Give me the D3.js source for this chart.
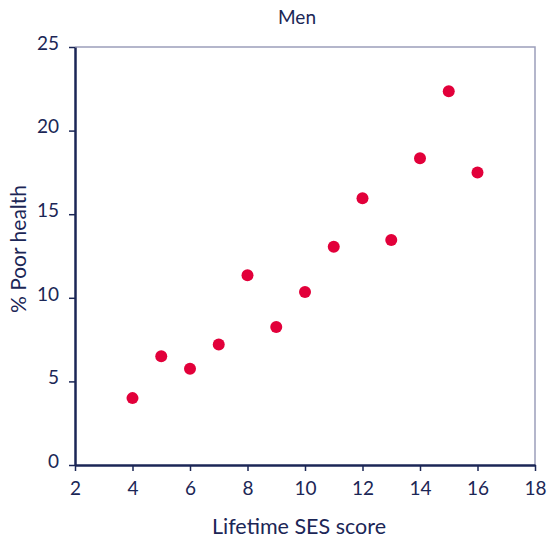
<!DOCTYPE html>
<html><head><meta charset="utf-8">
<script src="https://cdn.jsdelivr.net/npm/d3@7"></script>
<style>body{margin:0;background:#fff}svg{display:block}text{font-family:Lato,"Open Sans",sans-serif;fill:#1b2656}</style>
</head><body><svg id="c" width="550" height="547"></svg>
<script>
const xValues=[4,5,6,7,8,9,10,11,12,13,14,15,16];
const yValues=[4.0,6.5,5.75,7.2,11.35,8.25,10.35,13.05,15.95,13.45,18.35,22.35,17.5];
const xTicks=[2,4,6,8,10,12,14,16,18];
const yTicks=[0,5,10,15,20,25];
const title="Men", xTitle="Lifetime SES score", yTitle="% Poor health";

const svg=d3.select("#c");
const L=75,R=535,T=47,B=465;
const x=d3.scaleLinear().domain([2,18]).range([L,R]);
const y=d3.scaleLinear().domain([0,25]).range([B,T]);
const navy="#1b2656";
svg.append("path").attr("d",`M${L},${T}H${R}V${B}`).attr("fill","none").attr("stroke","#9c9fbb").attr("stroke-width",1.5);
const gx=svg.append("g").attr("transform",`translate(0,${B})`).call(d3.axisBottom(x).tickValues(xTicks).tickSize(6).tickSizeOuter(0).tickPadding(11));
const gy=svg.append("g").attr("transform",`translate(${L},0)`).call(d3.axisLeft(y).tickValues(yTicks).tickSize(6).tickSizeOuter(0).tickPadding(10));
[gx,gy].forEach(g=>{g.select(".domain").attr("stroke",navy).attr("stroke-width",2.5);
 g.selectAll(".tick line").attr("stroke",navy).attr("stroke-width",1.5);
 g.selectAll(".tick text").attr("font-size",19).attr("fill",navy).style("font-family","Lato, sans-serif");});
gy.selectAll(".tick text").attr("dy","0.12em");
svg.selectAll("circle.d").data(xValues).join("circle").attr("class","d")
 .attr("cx",(d,i)=>x(d)).attr("cy",(d,i)=>y(yValues[i])).attr("r",6).attr("fill","#e2003a");
svg.append("text").attr("x",297).attr("y",24).attr("text-anchor","middle").attr("font-size",19).text(title);
svg.append("text").attr("x",299).attr("y",534).attr("text-anchor","middle").attr("font-size",21.5).text(xTitle);
svg.append("text").attr("transform",`translate(26,249) rotate(-90)`).attr("text-anchor","middle").attr("font-size",21).text(yTitle);
</script></body></html>
